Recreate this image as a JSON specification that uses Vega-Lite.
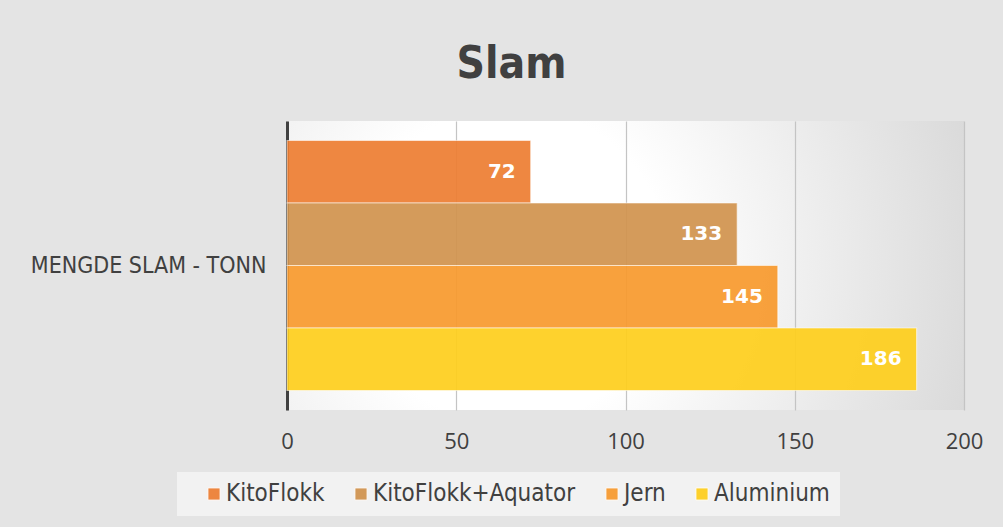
{
  "$schema": "https://vega.github.io/schema/vega-lite/v6.json",
  "autosize": "none",
  "width": 677,
  "height": 289,
  "padding": {"left": 287, "top": 121, "right": 39, "bottom": 117},
  "background": "#e4e4e4",
  "title": {
    "text": "Slam",
    "font": "DejaVu Sans Condensed",
    "fontSize": 44,
    "fontWeight": "bold",
    "color": "#404040",
    "anchor": "middle",
    "dx": -114,
    "offset": 34
  },
  "data": {
    "values": [
      {"cat": "MENGDE SLAM - TONN", "series": "KitoFlokk", "value": 72},
      {"cat": "MENGDE SLAM - TONN", "series": "KitoFlokk+Aquator", "value": 133},
      {"cat": "MENGDE SLAM - TONN", "series": "Jern", "value": 145},
      {"cat": "MENGDE SLAM - TONN", "series": "Aluminium", "value": 186}
    ]
  },
  "encoding": {
    "y": {
      "field": "cat",
      "type": "nominal",
      "title": null,
      "scale": {"paddingInner": 0, "paddingOuter": 0.078},
      "axis": {
        "domain": true,
        "domainColor": "#404040",
        "domainWidth": 3,
        "ticks": false,
        "grid": false,
        "labelFont": "DejaVu Sans Condensed",
        "labelFontSize": 23,
        "labelColor": "#404040",
        "labelPadding": 21,
        "labelLimit": 400
      }
    },
    "yOffset": {
      "field": "series",
      "type": "nominal",
      "sort": ["KitoFlokk", "KitoFlokk+Aquator", "Jern", "Aluminium"],
      "scale": {"paddingInner": 0, "paddingOuter": 0}
    },
    "x": {
      "field": "value",
      "type": "quantitative",
      "title": null,
      "scale": {"domain": [0, 200], "nice": false},
      "axis": {
        "values": [0, 50, 100, 150, 200],
        "domain": false,
        "ticks": false,
        "grid": true,
        "gridColor": "#c4c4c4",
        "gridWidth": 1.2,
        "labelFlush": false,
        "labelFont": "Open Sans",
        "labelFontSize": 22,
        "labelColor": "#404040",
        "labelPadding": 21
      }
    }
  },
  "layer": [
    {
      "mark": {"type": "bar", "fillOpacity": 0.92, "stroke": "#ffffff", "strokeOpacity": 0.55, "strokeWidth": 1.2},
      "encoding": {
        "color": {
          "field": "series",
          "type": "nominal",
          "sort": ["KitoFlokk", "KitoFlokk+Aquator", "Jern", "Aluminium"],
          "scale": {
            "domain": ["KitoFlokk", "KitoFlokk+Aquator", "Jern", "Aluminium"],
            "range": ["#ED7D31", "#D0924D", "#F7992C", "#FECE1B"]
          },
          "legend": {
            "title": null,
            "orient": "none",
            "direction": "horizontal",
            "legendX": -110,
            "legendY": 351,
            "fillColor": "#f2f2f2",
            "padding": 10,
            "symbolOffset": 15,
            "symbolType": "square",
            "symbolSize": 150,
            "symbolStrokeColor": "#ffffff",
            "symbolStrokeWidth": 1,
            "symbolOpacity": 0.92,
            "labelFont": "DejaVu Sans Condensed",
            "labelFontSize": 24,
            "labelColor": "#404040",
            "labelOffset": 0,
            "columnPadding": 9,
            "labelLimit": 400
          }
        }
      }
    },
    {
      "mark": {
        "type": "text",
        "align": "right",
        "baseline": "middle",
        "dx": -15,
        "font": "DejaVu Sans",
        "fontWeight": "bold",
        "fontSize": 20,
        "color": "#ffffff"
      },
      "encoding": {
        "text": {"field": "value", "type": "quantitative"}
      }
    }
  ],
  "config": {
    "view": {
      "stroke": null,
      "fill": {
        "gradient": "radial",
        "x1": 0.33, "y1": 0.5, "r1": 0,
        "x2": 0.33, "y2": 0.5, "r2": 0.78,
        "stops": [
          {"offset": 0, "color": "#ffffff"},
          {"offset": 0.3, "color": "#ffffff"},
          {"offset": 1, "color": "#d4d4d4"}
        ]
      }
    }
  }
}
